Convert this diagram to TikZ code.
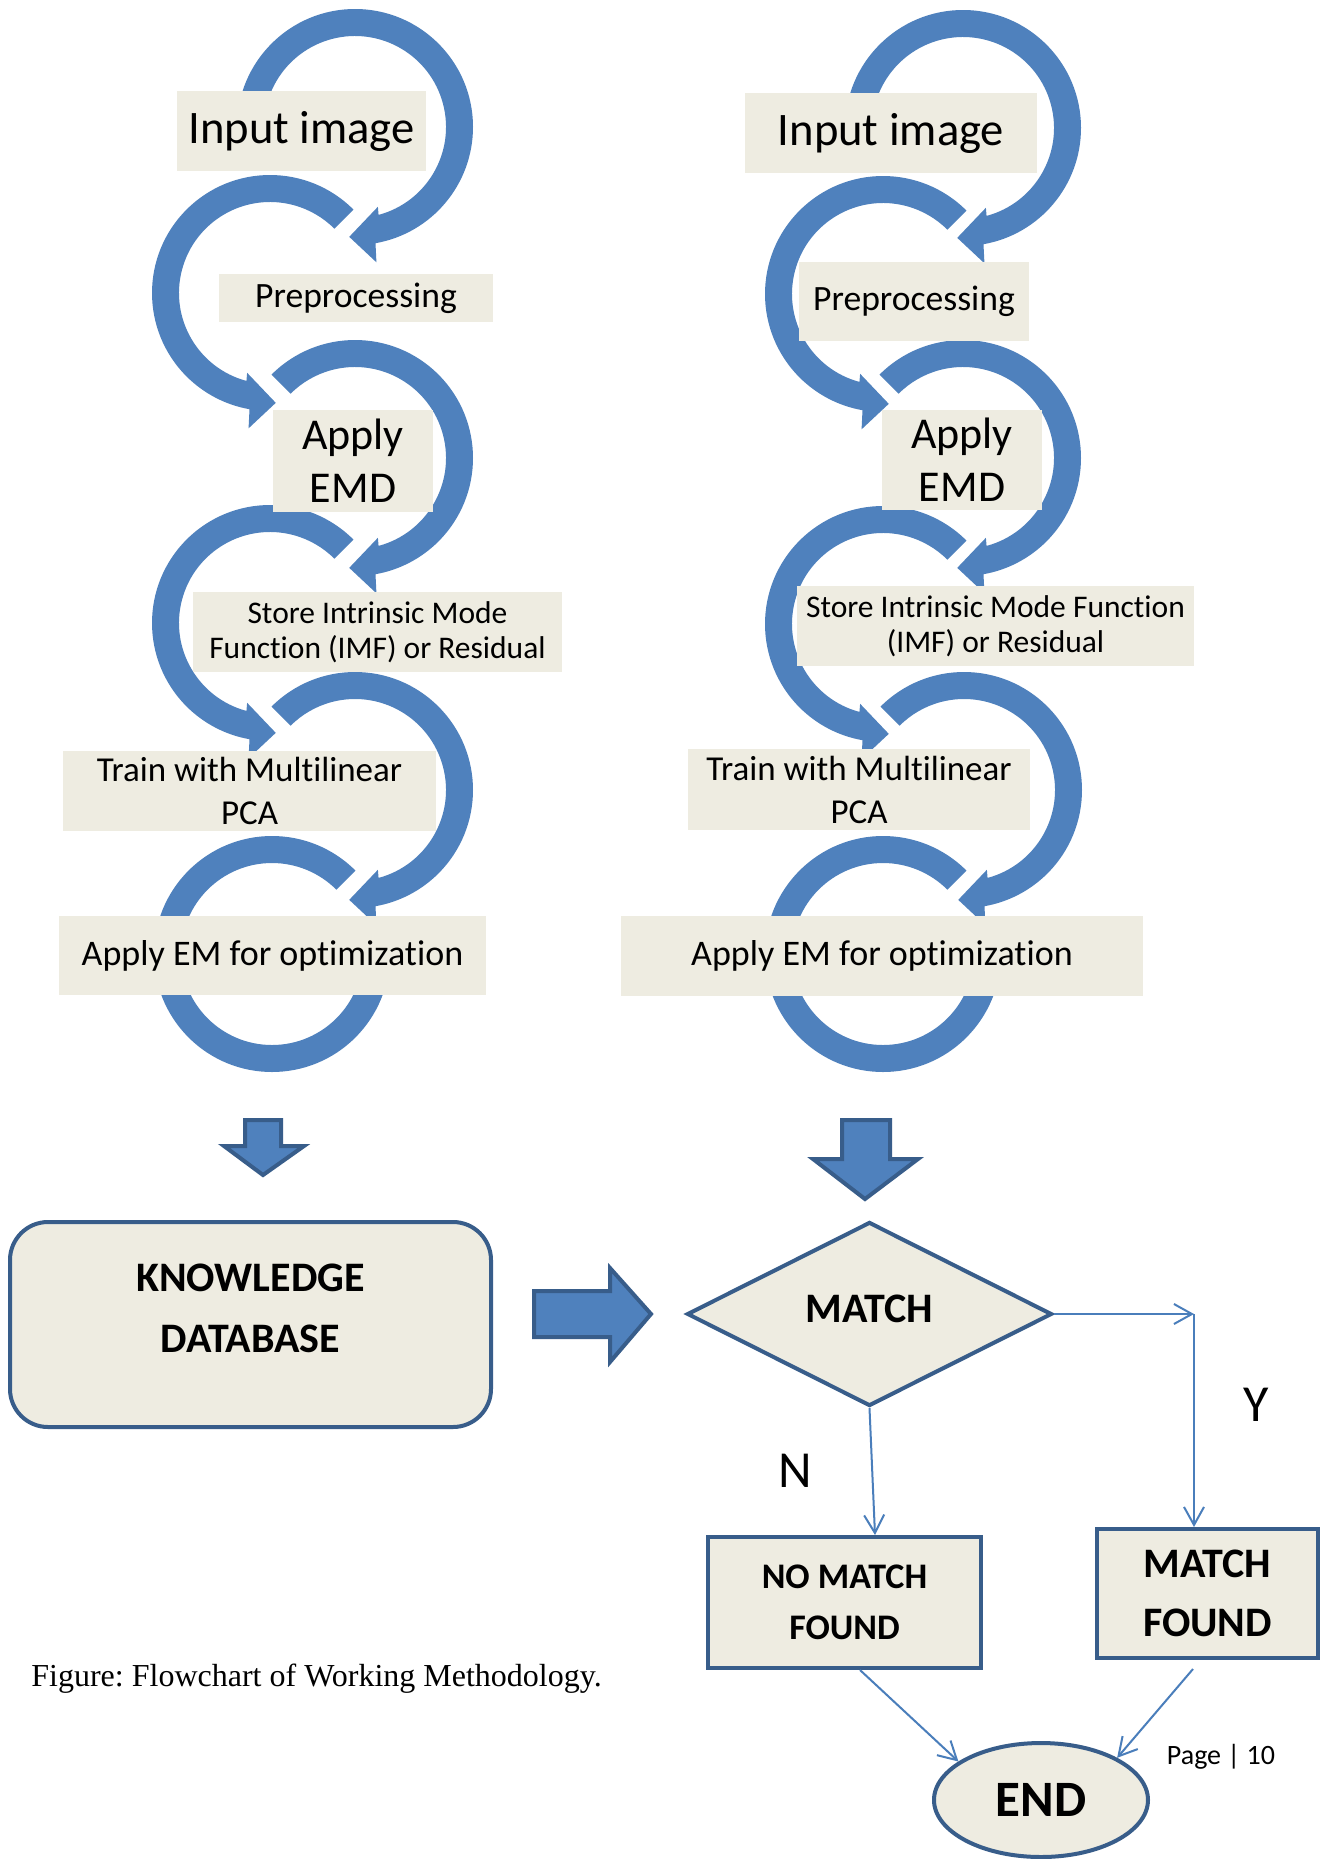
\documentclass[tikz,border=0pt]{standalone}
\usepackage{fontspec}
\setmainfont{Carlito}[Ligatures=NoCommon]
\newfontfamily\capfont{Liberation Serif}
\usetikzlibrary{shapes.geometric,arrows.meta,calc}
\definecolor{ringblue}{HTML}{4F81BD}
\definecolor{edgeblue}{HTML}{385D8A}
\definecolor{lineblue}{HTML}{4A7EBB}
\definecolor{boxbg}{HTML}{EEECE1}
\frenchspacing
\newcommand{\cwring}[2]{%
  \fill[ringblue] ($(#1)+(#2:118)$) arc[start angle=#2, end angle=-80, radius=118]
    -- ($(#1)+(-81:137)$) -- ($(#1)+(-93:110)$) -- ($(#1)+(-74:83)$) -- ($(#1)+(-75:91)$)
    arc[start angle=-75, end angle=#2, radius=91] -- cycle;}
\newcommand{\ccwring}[2]{%
  \fill[ringblue] ($(#1)+(#2:118)$) arc[start angle=#2, end angle=260, radius=118]
    -- ($(#1)+(261:137)$) -- ($(#1)+(273:110)$) -- ($(#1)+(254:83)$) -- ($(#1)+(255:91)$)
    arc[start angle=255, end angle=#2, radius=91] -- cycle;}
\newcommand{\openring}[1]{%
  \fill[ringblue] ($(#1)+(45:118)$) arc[start angle=45, end angle=360, radius=118]
    -- ($(#1)+(0:91)$) arc[start angle=360, end angle=45, radius=91] -- cycle;}
\tikzset{
  tbox/.style={fill=boxbg, inner sep=0pt, align=center, text=black},
  bluebox/.style={fill=boxbg, draw=edgeblue, line width=2pt, inner sep=0pt, align=center,
    font=\bfseries\fontsize{21pt}{29.5pt}\selectfont},
  blockarrow/.style={fill=ringblue, draw=edgeblue, line width=2pt},
  conn/.style={draw=lineblue, line width=1pt, -{Straight Barb[length=9pt,width=10pt]}},
  lbl/.style={inner sep=0pt, text=black}
}
\begin{document}
\begin{tikzpicture}[x=0.5pt,y=0.5pt]
\fill[white] (0,0) rectangle (1323,-1859);
\useasboundingbox (0,0) rectangle (1323,-1859);

% ring centres
\coordinate (a1) at (355,-127);
\coordinate (a2) at (270,-293);
\coordinate (a3) at (355,-458);
\coordinate (a4) at (270,-623);
\coordinate (a5) at (355,-790);
\coordinate (a6) at (272,-954);
\coordinate (b1) at (963,-128);
\coordinate (b2) at (883,-294);
\coordinate (b3) at (963,-458);
\coordinate (b4) at (883,-624);
\coordinate (b5) at (964,-790);
\coordinate (b6) at (883,-954);

% left column rings
\cwring{a1}{180}
\ccwring{a2}{45}
\cwring{a3}{135}
\ccwring{a4}{45}
\cwring{a5}{135}
\openring{a6}
% right column rings
\cwring{b1}{180}
\ccwring{b2}{45}
\cwring{b3}{135}
\ccwring{b4}{45}
\cwring{b5}{135}
\openring{b6}

% left column boxes
\node[tbox, minimum width=124.5pt, minimum height=40pt, font=\fontsize{23.3pt}{28pt}\selectfont] (inpL) at (301.5,-131) {Input image};
\node[tbox, minimum width=137pt, minimum height=24pt, font=\fontsize{17.8pt}{21pt}\selectfont] (preL) at (356,-298) {Preprocessing};
\node[tbox, minimum width=80pt, minimum height=51pt, font=\fontsize{22pt}{26.5pt}\selectfont] (emdL) at (353,-461) {Apply\\EMD};
\node[tbox, minimum width=184.5pt, minimum height=40pt, font=\fontsize{15.75pt}{17.5pt}\selectfont] (imfL) at (377.5,-632) {Store Intrinsic Mode\\Function (IMF) or Residual};
\node[tbox, minimum width=186.5pt, minimum height=40pt, font=\fontsize{17.5pt}{21.5pt}\selectfont] (pcaL) at (249.5,-791) {Train with Multilinear\\PCA};
\node[tbox, minimum width=213.5pt, minimum height=39.5pt, font=\fontsize{18pt}{21pt}\selectfont] (emL) at (272.5,-955.5) {Apply EM for optimization};

% right column boxes
\node[tbox, minimum width=146pt, minimum height=40pt, font=\fontsize{23.3pt}{28pt}\selectfont] (inpR) at (891,-133) {Input image};
\node[tbox, minimum width=115pt, minimum height=39.5pt, font=\fontsize{17.8pt}{21pt}\selectfont] (preR) at (914,-301.5) {Preprocessing};
\node[tbox, minimum width=80pt, minimum height=50pt, font=\fontsize{22pt}{26.5pt}\selectfont] (emdR) at (962,-460) {Apply\\EMD};
\node[tbox, minimum width=198.5pt, minimum height=40pt, font=\fontsize{15.75pt}{17.5pt}\selectfont] (imfR) at (995.5,-626) {Store Intrinsic Mode Function\\(IMF) or Residual};
\node[tbox, minimum width=171pt, minimum height=40.5pt, font=\fontsize{17.5pt}{21.5pt}\selectfont] (pcaR) at (859,-789.5) {Train with Multilinear\\PCA};
\node[tbox, minimum width=261pt, minimum height=40pt, font=\fontsize{18pt}{21pt}\selectfont] (emR) at (882,-956) {Apply EM for optimization};

% block arrows
\draw[blockarrow] (245,-1120) -- (281,-1120) -- (281,-1146) -- (304,-1146) -- (263,-1175) -- (224,-1146) -- (245,-1146) -- cycle;
\draw[blockarrow] (842,-1120) -- (890,-1120) -- (890,-1159) -- (918,-1159) -- (865,-1199) -- (813,-1159) -- (842,-1159) -- cycle;
\draw[blockarrow] (534,-1291) -- (610,-1291) -- (610,-1268) -- (651,-1314) -- (610,-1362) -- (610,-1337) -- (534,-1337) -- cycle;

% knowledge database
\node[fill=boxbg, draw=edgeblue, line width=2pt, rounded corners=19pt, minimum width=240.5pt, minimum height=102.5pt, inner sep=0pt] (kdb) at (250.5,-1324.5) {};
\node[lbl, align=center, font=\bfseries\fontsize{21pt}{30.5pt}\selectfont] (kdbtext) at (250.5,-1308.5) {KNOWLEDGE\\DATABASE};

% decision
\node[diamond, fill=boxbg, draw=edgeblue, line width=2pt, minimum width=182.5pt, minimum height=92pt, inner sep=0pt, font=\bfseries\fontsize{21pt}{25pt}\selectfont] (match) at (869.5,-1314) {\raisebox{5pt}{MATCH}};

% outcome boxes
\node[bluebox, minimum width=136.5pt, minimum height=65.5pt, font=\bfseries\fontsize{18pt}{25.5pt}\selectfont] (nm) at (844.5,-1602.5) {NO MATCH\\FOUND};
\node[bluebox, minimum width=110.5pt, minimum height=64.5pt] (mf) at (1207.5,-1593.5) {MATCH\\FOUND};
\node[ellipse, fill=boxbg, draw=edgeblue, line width=2pt, minimum width=107pt, minimum height=57pt, inner sep=0pt, font=\bfseries\fontsize{25.5pt}{30pt}\selectfont] (endn) at (1041,-1800) {\raisebox{-3pt}{END}};

% connectors
\coordinate (yc) at (1194,-1314);
\draw[conn] (match.east) -- (yc);
\draw[conn] (yc) -- (yc |- mf.north);
\draw[conn] (match.south) -- ([xshift=15.25pt]nm.north);
\draw[conn] ([xshift=7.75pt]nm.south) -- (endn.155);
\draw[conn] ([xshift=-7.25pt,yshift=-4.5pt]mf.south) -- (endn.29);

% labels
\node[lbl, font=\fontsize{26pt}{30pt}\selectfont] (nlab) at (795,-1471) {N};
\node[lbl, font=\fontsize{26pt}{30pt}\selectfont] (ylab) at (1256,-1405) {Y};
\node[lbl, font=\fontsize{14pt}{17pt}\selectfont] (page) at (1221,-1757) {Page | 10};
\node[lbl, anchor=base west, font=\capfont\fontsize{16pt}{19pt}\selectfont] (caption) at (31,-1686) {Figure: Flowchart of Working Methodology.};
\end{tikzpicture}
\end{document}
